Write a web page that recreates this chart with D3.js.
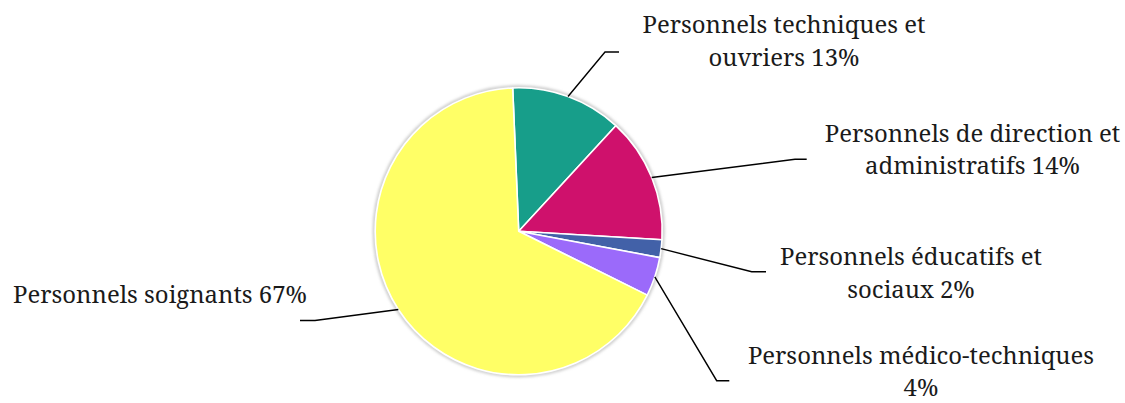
<!DOCTYPE html>
<html><head><meta charset="utf-8">
<script src="https://d3js.org/d3.v7.min.js"></script>
<style>body{margin:0;background:#fff}</style></head>
<body><svg id="c" width="1125" height="403"></svg>
<script>
// ---- data ----
const categories = [
  "Personnels techniques et ouvriers",
  "Personnels de direction et administratifs",
  "Personnels éducatifs et sociaux",
  "Personnels médico-techniques",
  "Personnels soignants"
];
const values = [12.5, 14.1, 2.0, 4.4, 67.0];
const labelLines = [
  ["Personnels techniques et", "ouvriers 13%"],
  ["Personnels de direction et", "administratifs 14%"],
  ["Personnels éducatifs et", "sociaux 2%"],
  ["Personnels médico-techniques", "4%"],
  ["Personnels soignants 67%"]
];
const colors = ["#179E8A", "#CF116C", "#4261A8", "#9B6AFA", "#FFFF66"];

// ---- layout ----
const cx = 518.7, cy = 231.3, R = 143.5;
const startDeg = -2.4;
const layout = [
  {elbow:[605,52],  end:[619,52],   tx:784,  ty:33,  anchor:"middle", lh:32.5},
  {elbow:[795,159.3], end:[806.7,159.3], tx:972.5, ty:141.7, anchor:"middle", lh:32.5},
  {elbow:[751.7,271.7], end:[766,271.7], tx:911, ty:265, anchor:"middle", lh:32.5},
  {elbow:[716.7,380.7], end:[729.3,380.7], tx:921, ty:363.5, anchor:"middle", lh:32.5},
  {elbow:[315,320.5], end:[300,320.5], tx:160, ty:303.3, anchor:"middle", lh:32.5}
];

const svg = d3.select("#c");
const defs = svg.append("defs");
const f = defs.append("filter").attr("id","sh").attr("x","-10%").attr("y","-10%").attr("width","120%").attr("height","120%");
f.append("feGaussianBlur").attr("stdDeviation",1.6);

const g = svg.append("g").attr("transform",`translate(${cx},${cy})`);
g.append("circle").attr("r",R+1).attr("fill","none").attr("stroke","#bdbdbd").attr("stroke-width",2.5).attr("filter","url(#sh)");

const a0 = startDeg*Math.PI/180;
const pie = d3.pie().sort(null).value(d=>d).startAngle(a0).endAngle(a0+2*Math.PI);
const arcs = pie(values);
const arc = d3.arc().innerRadius(0).outerRadius(R);

g.selectAll("path.slice").data(arcs).join("path")
  .attr("class","slice")
  .attr("d",arc)
  .attr("fill",(d,i)=>colors[i])
  .attr("stroke","#fff").attr("stroke-width",1.6).attr("stroke-linejoin","round");

// leader lines
const lines = svg.append("g");
arcs.forEach((d,i)=>{
  const m = (d.startAngle+d.endAngle)/2;
  const p0 = [cx + R*Math.sin(m), cy - R*Math.cos(m)];
  const L = layout[i];
  lines.append("polyline")
    .attr("points",[p0,L.elbow,L.end].map(p=>p.join(",")).join(" "))
    .attr("fill","none").attr("stroke","#000").attr("stroke-width",1.4);
});

// labels
const lab = svg.append("g").style("font-family","'Noto Serif','Liberation Serif',serif")
  .style("font-size","23.9px").attr("fill","#1a1a1a");
labelLines.forEach((ls,i)=>{
  const L = layout[i];
  const t = lab.append("text").attr("text-anchor",L.anchor);
  ls.forEach((s,j)=>{
    t.append("tspan").attr("x",L.tx).attr("y",L.ty + j*L.lh).text(s);
  });
});
</script></body></html>
